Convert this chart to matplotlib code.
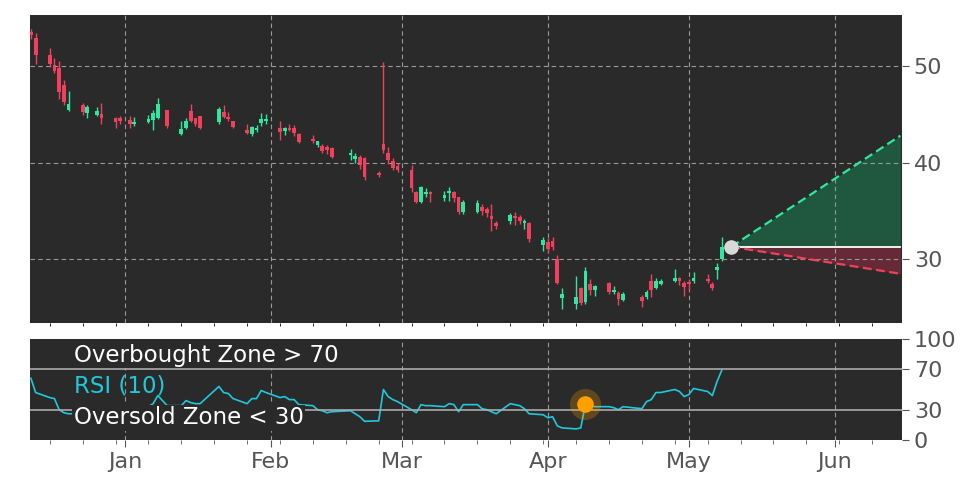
import matplotlib
matplotlib.use("Agg")
import matplotlib.pyplot as plt
import matplotlib.dates as mdates
import numpy as np

dates = ["2024-12-12","2024-12-13","2024-12-16","2024-12-17","2024-12-18","2024-12-19","2024-12-20",
"2024-12-23","2024-12-24","2024-12-26","2024-12-27","2024-12-30","2024-12-31","2025-01-02","2025-01-03",
"2025-01-06","2025-01-07","2025-01-08","2025-01-10","2025-01-13","2025-01-14","2025-01-15","2025-01-16",
"2025-01-17","2025-01-21","2025-01-22","2025-01-23","2025-01-24","2025-01-27","2025-01-28","2025-01-29",
"2025-01-30","2025-01-31","2025-02-03","2025-02-04","2025-02-05","2025-02-06","2025-02-07","2025-02-10",
"2025-02-11","2025-02-12","2025-02-13","2025-02-14","2025-02-18","2025-02-19","2025-02-20","2025-02-21",
"2025-02-24","2025-02-25","2025-02-26","2025-02-27","2025-02-28","2025-03-03","2025-03-04","2025-03-05",
"2025-03-06","2025-03-07","2025-03-10","2025-03-11","2025-03-12","2025-03-13","2025-03-14","2025-03-17",
"2025-03-18","2025-03-19","2025-03-20","2025-03-21","2025-03-24","2025-03-25","2025-03-26","2025-03-27",
"2025-03-28","2025-03-31","2025-04-01","2025-04-02","2025-04-03","2025-04-04","2025-04-07","2025-04-08",
"2025-04-09","2025-04-10","2025-04-11","2025-04-14","2025-04-15","2025-04-16","2025-04-17","2025-04-21",
"2025-04-22","2025-04-23","2025-04-24","2025-04-25","2025-04-28","2025-04-29","2025-04-30","2025-05-01",
"2025-05-02","2025-05-05","2025-05-06","2025-05-07","2025-05-08"]
opens = [53.5,52.9,51.2,50.1,49.8,48.0,45.5,46.0,45.2,44.9,45.0,44.6,44.6,44.4,44.0,44.2,44.4,44.6,45.5,43.0,
43.6,45.4,44.6,44.8,44.2,45.3,44.7,44.3,43.4,43.0,43.4,44.1,44.3,43.6,43.3,43.6,43.6,43.0,42.5,41.8,41.7,41.6,
41.5,40.8,40.4,40.6,40.5,38.9,41.9,41.0,40.2,39.7,39.2,37.0,35.9,36.8,37.0,36.3,36.9,37.0,36.4,34.9,34.9,35.4,
35.2,34.5,33.8,34.0,34.5,34.4,33.8,33.8,31.5,31.8,31.9,30.0,26.0,25.4,27.0,25.6,27.4,26.8,27.5,26.6,26.5,25.8,
26.1,26.1,27.7,27.0,27.4,27.8,28.1,27.5,27.6,27.7,28.0,27.4,28.9,30.0]
closes = [53.2,51.2,50.2,49.5,47.3,46.3,46.1,45.3,45.8,45.4,44.6,44.2,44.3,44.0,44.2,44.5,45.2,46.1,43.8,43.5,
44.3,44.3,44.0,43.6,45.6,44.7,44.5,43.7,43.1,43.7,43.6,44.5,44.5,43.2,43.6,43.4,43.1,42.1,42.2,42.2,41.2,41.3,
40.6,41.0,40.7,39.8,38.5,38.7,41.3,40.3,39.5,39.2,37.4,35.9,37.5,37.0,36.8,36.7,37.1,36.3,34.9,35.9,35.8,35.0,
34.8,34.2,33.4,34.6,34.3,34.0,34.0,32.1,32.0,31.1,31.3,27.5,26.4,26.1,25.5,28.8,26.8,27.2,26.6,26.8,25.9,26.4,
25.7,26.6,26.8,27.8,27.8,28.1,27.8,27.1,27.4,28.1,27.8,27.0,29.2,31.3]
highs = [53.8,53.4,51.9,50.8,50.5,48.6,47.4,46.2,46.0,45.8,46.2,44.7,44.8,44.8,44.7,44.9,45.5,46.7,45.5,44.3,
44.6,46.1,44.6,44.8,45.8,46.0,45.3,44.3,44.0,43.8,43.9,45.1,45.0,44.3,43.7,44.0,43.9,43.1,42.9,42.3,41.9,41.8,
41.6,41.4,41.0,40.8,40.6,39.1,50.4,41.6,40.5,40.0,39.8,37.1,37.6,37.4,37.1,37.1,37.5,37.1,36.5,36.1,36.1,35.7,
35.4,35.7,34.0,34.8,34.9,34.6,34.2,33.9,32.3,32.2,32.3,30.4,27.0,28.3,27.1,29.2,28.0,27.3,27.6,27.2,26.7,26.6,
26.3,26.8,28.5,28.1,28.0,29.0,28.2,27.7,28.0,28.7,28.5,27.6,29.6,32.3]
lows = [52.8,50.2,49.9,49.3,46.6,46.0,45.4,44.9,44.6,44.8,44.0,43.6,44.0,43.6,43.8,44.1,43.4,44.5,43.6,42.9,
43.5,44.2,43.8,43.5,44.0,44.6,44.3,43.6,43.0,42.8,43.2,43.8,44.0,42.4,42.9,43.3,42.8,42.0,42.0,41.6,41.0,40.9,
40.5,40.3,40.0,39.4,38.2,38.5,41.0,39.9,39.2,39.0,37.0,35.8,35.8,36.5,35.9,36.0,36.0,35.9,34.7,34.7,34.8,34.6,
34.4,32.9,33.1,33.7,33.6,33.7,33.1,31.8,30.9,30.7,31.0,27.4,24.9,24.8,25.3,25.4,26.3,26.2,26.4,26.4,25.3,25.7,
25.1,25.9,26.1,26.9,27.3,27.6,27.3,26.2,26.8,27.5,27.5,26.8,28.0,29.8]
rsi = [61,47,42,41,30,27,26,26,29,29,26,27,28,28,27,33,36,44,34,34,39,37,36,36,53,47,46,41,36,41,41,49,47,42,
43,40,40,35,34,30,29,27,28,29,26,23,18.5,19,50,43,40,38,30,27,35,34,34,33,36,35,28,35,35,31,30,28,26,36,35,34,
31,26,25,22,23,14,12,11,12,36,34,33,33,32,30,33,31,38,40,47,47,50,48,43,45,51,48,44,58,69]

last_date = "2025-05-10"
last_price = 31.3
target_date = "2025-06-15"
target_high = 42.8
target_low = 28.5
signal_date = "2025-04-09"
signal_rsi = 36
price_ticks = [30, 40, 50]
rsi_ticks = [0, 30, 70, 100]

RED = "#f0405e"; GREEN = "#2ee89f"; BG = "#2a2a2a"; RSIC = "#1fc9dc"
x = mdates.datestr2num(dates)
o = np.array(opens); c = np.array(closes); h = np.array(highs); l = np.array(lows)

fig = plt.figure(figsize=(9.72, 4.86), dpi=100)
W, H = 972, 486
ax = fig.add_axes([30/W, 1-323/H, 872/W, 308/H])
ar = fig.add_axes([30/W, 1-440/H, 872/W, 101/H], sharex=ax)
for a in (ax, ar):
    a.set_facecolor(BG)
    for s in a.spines.values():
        s.set_visible(False)
    a.yaxis.tick_right()
    a.tick_params(axis='y', labelsize=16, labelcolor="#555555", color="#555555", length=5)
    a.tick_params(axis='x', labelsize=16, labelcolor="#555555", color="#555555")

cols = np.where(c >= o, GREEN, RED)
ax.vlines(x, l, h, colors=cols, linewidth=1)
ax.bar(x, np.maximum(np.abs(c - o), 0.12), bottom=np.minimum(o, c), width=0.8, color=cols, linewidth=0)

xl, xt = mdates.datestr2num(last_date), mdates.datestr2num(target_date)
ax.fill_between([xl, xt], [last_price]*2, [last_price, target_high], color="#1f5a41", alpha=0.95, linewidth=0)
ax.fill_between([xl, xt], [last_price]*2, [last_price, target_low], color="#6a2b37", alpha=0.95, linewidth=0)
ax.plot([xl, xt], [last_price, last_price], color="white", lw=1.3)
ax.plot([xl, xt], [last_price, target_high], color=GREEN, lw=1.6, ls=(0, (4, 2)))
ax.plot([xl, xt], [last_price, target_low], color=RED, lw=1.6, ls=(0, (4, 2)))
ax.scatter([xl], [last_price], s=90, color="#d9d9d9", zorder=5)

ax.set_ylim(23.4, 55.3)
ax.set_yticks(price_ticks)
x0 = mdates.datestr2num("2024-12-11") + 0.8
ax.set_xlim(x0, x0 + 185.55)
ax.grid(True, color="#999999", ls=(0, (4, 3)), lw=0.8)
ax.tick_params(axis='x', labelbottom=False, length=0)

ar.plot(x, rsi, color=RSIC, lw=1.2)
ar.axhline(70, color="#aaaaaa", lw=1.2)
ar.axhline(30, color="#aaaaaa", lw=1.2)
xs = mdates.datestr2num(signal_date)
ar.scatter([xs], [signal_rsi], s=500, color="#ff9f00", alpha=0.25, linewidth=0, zorder=4)
ar.scatter([xs], [signal_rsi], s=120, color="#ff9f00", zorder=5)
ar.set_ylim(0, 100)
ar.set_yticks(rsi_ticks)
ar.xaxis.grid(True, color="#999999", ls=(0, (4, 3)), lw=0.8)
ar.xaxis.set_major_locator(mdates.MonthLocator())
ar.xaxis.set_major_formatter(mdates.DateFormatter("%b"))
ar.xaxis.set_minor_locator(mdates.WeekdayLocator(byweekday=mdates.MO))
ar.tick_params(axis='x', which='minor', length=3, color="#555555")
ar.tick_params(axis='x', which='major', length=5)

bb = dict(facecolor=BG, edgecolor="none", pad=1)
ar.text(0.05, 0.84, "Overbought Zone > 70", transform=ar.transAxes, color="white", fontsize=16.5, va="center", bbox=bb)
ar.text(0.05, 0.53, "RSI (10)", transform=ar.transAxes, color=RSIC, fontsize=16.5, va="center")
ar.text(0.05, 0.22, "Oversold Zone < 30", transform=ar.transAxes, color="white", fontsize=16.5, va="center", bbox=bb)

fig.savefig("out.png", dpi=100, facecolor="white")
